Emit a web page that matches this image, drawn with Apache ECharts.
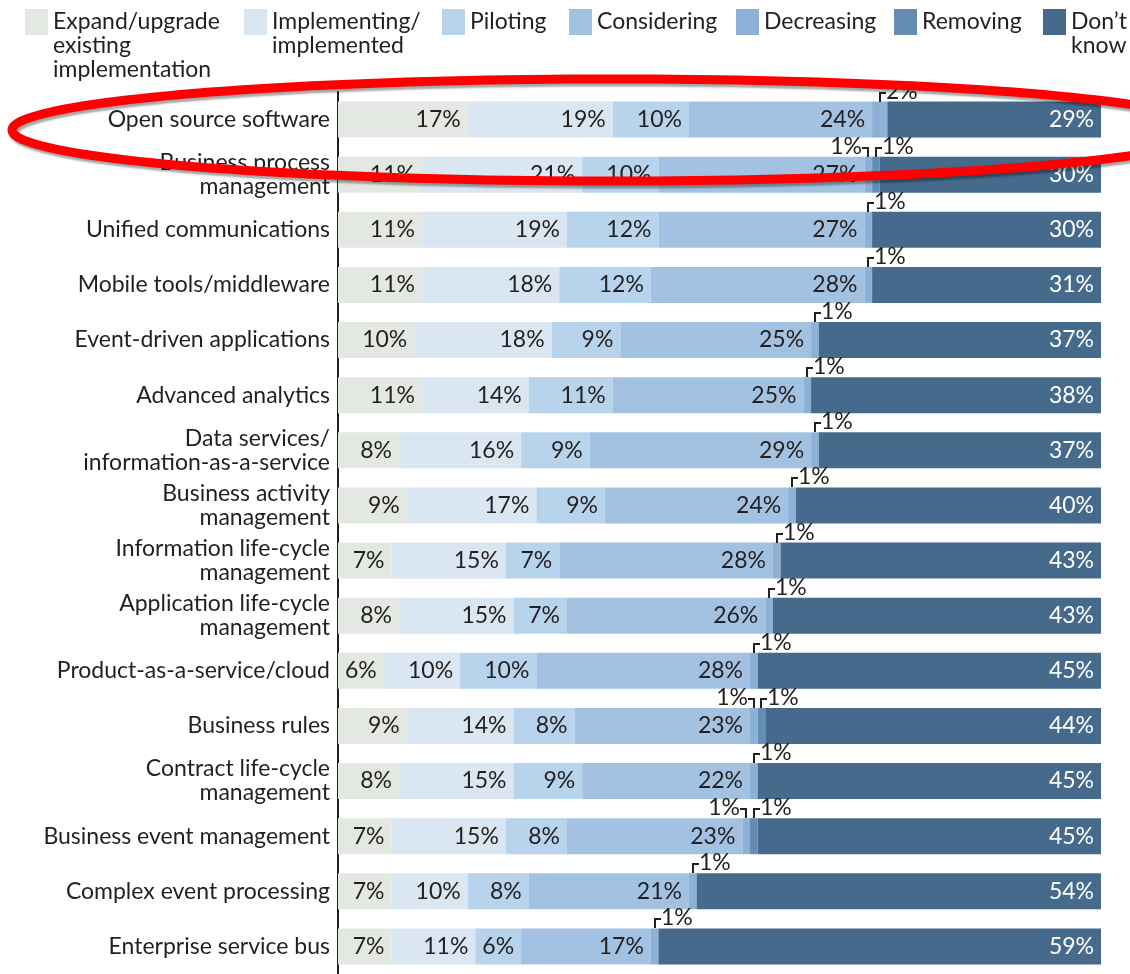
<!DOCTYPE html>
<html>
<head>
<meta charset="utf-8">
<script src="https://cdn.jsdelivr.net/npm/echarts@6/dist/echarts.min.js"></script>
<style>
    html, body { margin: 0; padding: 0; background: #fff; }
    #chart { width: 1130px; height: 974px; }
</style>
</head>
<body>
<div id="chart"></div>
<script>
// categories, top to bottom
const categories = [
    'Open source software',
    'Business process\nmanagement',
    'Unified communications',
    'Mobile tools/middleware',
    'Event-driven applications',
    'Advanced analytics',
    'Data services/\ninformation-as-a-service',
    'Business activity\nmanagement',
    'Information life-cycle\nmanagement',
    'Application life-cycle\nmanagement',
    'Product-as-a-service/cloud',
    'Business rules',
    'Contract life-cycle\nmanagement',
    'Business event management',
    'Complex event processing',
    'Enterprise service bus'
];

const seriesNames = [
    'Expand/upgrade\nexisting\nimplementation',
    'Implementing/\nimplemented',
    'Piloting',
    'Considering',
    'Decreasing',
    'Removing',
    'Don\u2019t\nknow'
];

// values in %
const expand       = [17, 11, 11, 11, 10, 11, 8, 9, 7, 8, 6, 9, 8, 7, 7, 7];
const implementing = [19, 21, 19, 18, 18, 14, 16, 17, 15, 15, 10, 14, 15, 15, 10, 11];
const piloting     = [10, 10, 12, 12, 9, 11, 9, 9, 7, 7, 10, 8, 9, 8, 8, 6];
const considering  = [24, 27, 27, 28, 25, 25, 29, 24, 28, 26, 28, 23, 22, 23, 21, 17];
const decreasing   = [2, 1, 1, 1, 1, 1, 1, 1, 1, 1, 1, 1, 1, 1, 1, 1];
const removing     = [0, 1, 0, 0, 0, 0, 0, 0, 0, 0, 0, 1, 0, 1, 0, 0];
const dontKnow     = [29, 30, 30, 31, 37, 38, 37, 40, 43, 43, 45, 44, 45, 45, 54, 59];

const colors = ['#e3e8e2', '#dae6f1', '#b8d3ec', '#a3c2e1', '#8db0d6', '#648db4', '#466a8b'];
const legendLeft = [25, 244, 442, 569, 736, 894, 1043];

const FONT = 'Lato';
const FS = 23;
const TEXT = '#231f20';
const BAR_W = 36;

const values = [expand, implementing, piloting, considering, decreasing, removing, dontKnow];

// small segments get a bracket label above the bar
const smallItems = [];
categories.forEach((c, i) => {
    const base = expand[i] + implementing[i] + piloting[i] + considering[i];
    if (decreasing[i]) smallItems.push([base + decreasing[i] / 2, i, decreasing[i], removing[i] ? -1 : 1]);
    if (removing[i]) smallItems.push([base + decreasing[i] + removing[i] / 2, i, removing[i], 1]);
});

const chart = echarts.init(document.getElementById('chart'));

const barSeries = seriesNames.map((name, k) => ({
    name: name,
    type: 'bar',
    stack: 'total',
    barWidth: BAR_W,
    data: values[k],
    itemStyle: { color: colors[k] },
    emphasis: { disabled: true },
    label: {
        show: k !== 4 && k !== 5,
        position: 'insideRight',
        distance: 7,
        fontFamily: FONT,
        fontSize: FS,
        color: k === 6 ? '#ffffff' : TEXT,
        formatter: p => p.value ? p.value + '%' : ''
    }
}));

const bracketSeries = {
    type: 'custom',
    data: smallItems,
    encode: { x: 0, y: 1 },
    z: 5,
    silent: true,
    clip: false,
    renderItem(params, api) {
        const p = api.coord([api.value(0), api.value(1)]);
        const dir = api.value(3);
        const x = Math.round(p[0]);
        const top = Math.round(p[1] - BAR_W / 2);
        return {
            type: 'group',
            children: [
                {
                    type: 'polyline',
                    shape: { points: [[x, top], [x, top - 9], [x + dir * 6, top - 9]] },
                    style: { stroke: TEXT, lineWidth: 2, fill: null }
                },
                {
                    type: 'text',
                    x: x + dir * 6,
                    y: top - 10,
                    style: {
                        text: api.value(2) + '%',
                        fontFamily: FONT,
                        fontSize: FS,
                        fill: TEXT,
                        align: dir > 0 ? 'left' : 'right',
                        verticalAlign: 'middle'
                    }
                }
            ]
        };
    }
};

// red hand-drawn ellipse annotation around the first row
const ellipsePts = [];
for (let a = 0; a <= 360; a += 2) {
    const t = a * Math.PI / 180;
    ellipsePts.push([612 + 600 * Math.cos(t), 130 + 51 * Math.sin(t)]);
}

const option = {
    backgroundColor: '#ffffff',
    animation: false,
    legend: seriesNames.map((name, i) => {
        const n = name.split('\n').length;
        return {
            data: [name],
            left: legendLeft[i],
            top: 9 + Math.min(0, 13 - (2 * n - 1) * 12),
            padding: 0,
            itemWidth: 23,
            itemHeight: 26,
            icon: 'rect',
            selectedMode: false,
            formatter: nm => '\u00a0\n'.repeat(n - 1) + nm,
            textStyle: { fontFamily: FONT, fontSize: FS, lineHeight: 24, color: TEXT }
        };
    }),
    grid: {
        left: 338,
        right: 29,
        top: 92,
        height: 890,
        containLabel: false
    },
    xAxis: {
        type: 'value',
        min: 0,
        max: 100,
        show: false
    },
    yAxis: {
        type: 'category',
        data: categories,
        inverse: true,
        axisLine: { lineStyle: { color: TEXT, width: 2 } },
        axisTick: { show: false },
        axisLabel: {
            margin: 8,
            fontFamily: FONT,
            fontSize: FS,
            lineHeight: 24,
            color: TEXT
        }
    },
    series: [...barSeries, bracketSeries],
    graphic: [
        {
            type: 'polygon',
            z: 100,
            silent: true,
            shape: { points: ellipsePts },
            style: {
                fill: 'transparent',
                stroke: '#ff0000',
                lineWidth: 9,
                shadowColor: 'rgba(0,0,0,0.35)',
                shadowBlur: 2,
                shadowOffsetX: 2,
                shadowOffsetY: 3
            }
        }
    ]
};

chart.setOption(option);
</script>
</body>
</html>
